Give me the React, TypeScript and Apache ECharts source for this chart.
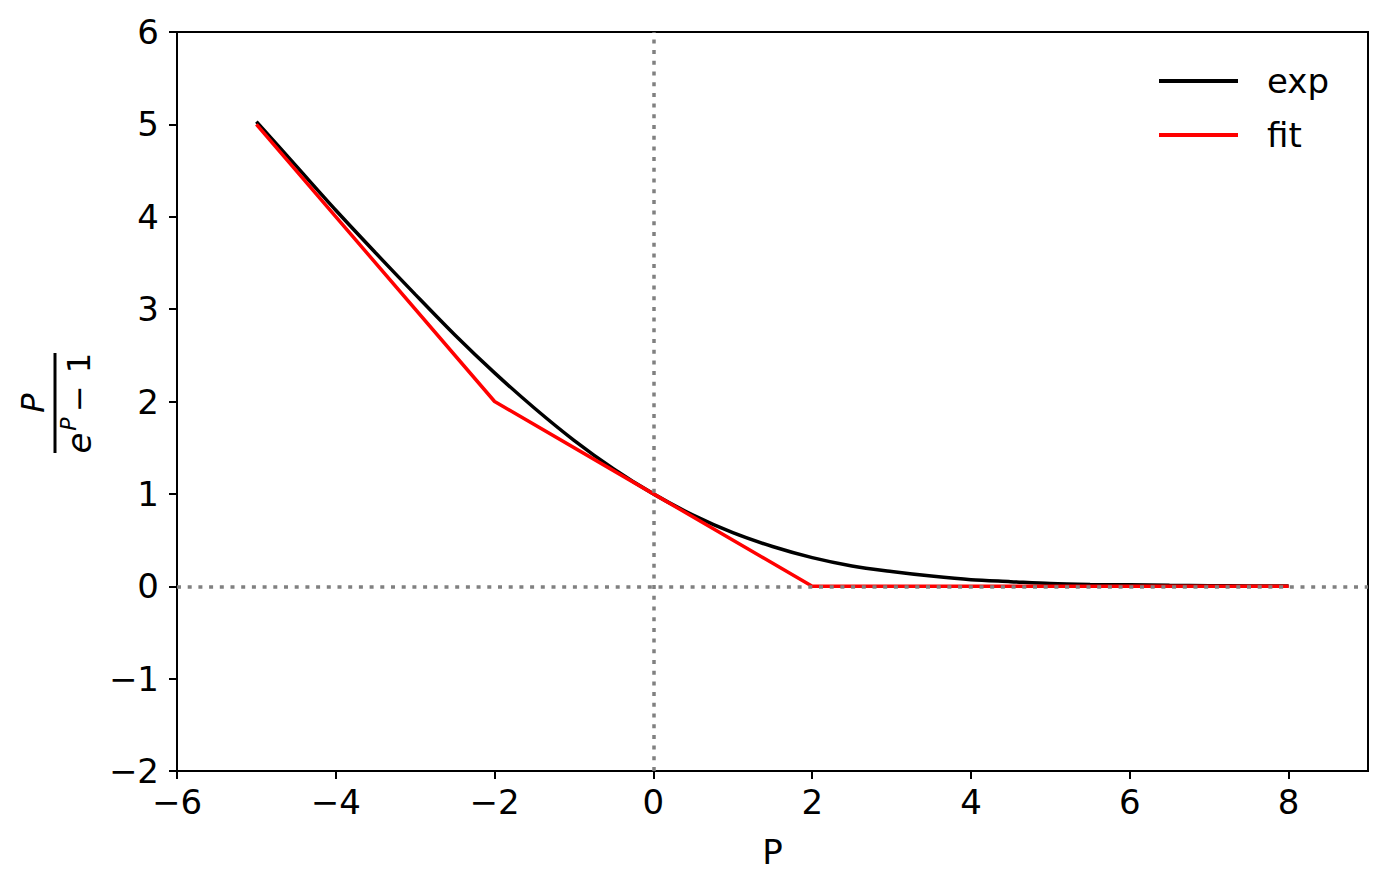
import React, { useEffect, useRef } from "react";
import * as echarts from "echarts";

const pValues = [-5, -4.5, -4, -3.5, -3, -2.5, -2, -1.5, -1, -0.5, 0, 0.5, 1, 1.5, 2, 2.5, 3, 3.5, 4, 4.5, 5, 5.5, 6, 6.5, 7, 7.5, 8];
const expValues = [5.03, 4.55, 4.07, 3.61, 3.16, 2.72, 2.31, 1.93, 1.58, 1.27, 1.0, 0.77, 0.58, 0.43, 0.31, 0.22, 0.16, 0.11, 0.07, 0.05, 0.03, 0.02, 0.015, 0.01, 0.006, 0.004, 0.003];
const fitP = [-5, -2, 0, 2, 8];
const fitValues = [5, 2, 1, 0, 0];
const xTicks = [-6, -4, -2, 0, 2, 4, 6, 8];
const yTicks = [-2, -1, 0, 1, 2, 3, 4, 5, 6];
const seriesNames = ["exp", "fit"];

const FONT = "DejaVu Sans";
const fmt = (v: number) => (v < 0 ? "\u2212" + Math.abs(v) : String(v));

export default function App() {
  const ref = useRef<HTMLDivElement>(null);
  useEffect(() => {
    if (!ref.current) return;
    const chart = echarts.init(ref.current, null, { renderer: "svg" });
    const expData = pValues.map((p, i) => [p, expValues[i]]);
    const fitData = fitP.map((p, i) => [p, fitValues[i]]);
    chart.setOption({
      animation: false,
      backgroundColor: "#ffffff",
      textStyle: { fontFamily: FONT },
      grid: {
        left: 177,
        top: 32,
        right: 18,
        bottom: 121,
        show: true,
        borderColor: "#000",
        borderWidth: 2,
        containLabel: false,
        outerBoundsMode: "none",
      },
      legend: {
        data: seriesNames,
        orient: "vertical",
        left: 1154,
        top: 56,
        itemWidth: 79,
        itemHeight: 4,
        itemGap: 14,
        icon: "rect",
        textStyle: { fontFamily: FONT, fontSize: 34, color: "#000", lineHeight: 40, padding: [0, 0, 0, 24] },
      },
      xAxis: {
        type: "value",
        min: -6,
        max: 9,
        interval: 2,
        name: "P",
        nameLocation: "middle",
        nameGap: 64,
        nameTextStyle: { fontFamily: FONT, fontSize: 34, color: "#000" },
        splitLine: { show: false },
        axisLine: { show: true, onZero: false, lineStyle: { color: "#000", width: 2 } },
        axisTick: { show: true, length: 8, lineStyle: { color: "#000", width: 2 }, customValues: xTicks },
        axisLabel: { fontFamily: FONT, fontSize: 34, color: "#000", margin: 14, formatter: fmt, customValues: xTicks },
      },
      yAxis: {
        type: "value",
        min: -2,
        max: 6,
        interval: 1,
        splitLine: { show: false },
        axisLine: { show: true, onZero: false, lineStyle: { color: "#000", width: 2 } },
        axisTick: { show: true, length: 8, lineStyle: { color: "#000", width: 2 }, customValues: yTicks },
        axisLabel: { fontFamily: FONT, fontSize: 34, color: "#000", margin: 18, formatter: fmt, customValues: yTicks },
      },
      series: [
        {
          name: "exp",
          type: "line",
          data: expData,
          showSymbol: false,
          symbol: "none",
          smooth: 0.3,
          color: "#000000",
          lineStyle: { color: "#000000", width: 3.5 },
          z: 2,
        },
        {
          name: "fit",
          type: "line",
          data: fitData,
          showSymbol: false,
          symbol: "none",
          color: "#ff0000",
          lineStyle: { color: "#ff0000", width: 3.5 },
          z: 3,
        },
        {
          name: "ref",
          type: "line",
          data: [],
          z: 4,
          markLine: {
            silent: true,
            symbol: "none",
            label: { show: false },
            lineStyle: { color: "#808080", width: 3.5, type: [4, 6.7] },
            data: [{ xAxis: 0 }, { yAxis: 0 }],
          },
        },
      ],
      graphic: [
        {
          type: "group",
          x: 55,
          y: 403,
          rotation: Math.PI / 2,
          children: [
            { type: "rect", shape: { x: -50, y: -1.5, width: 100, height: 3 }, style: { fill: "#000" } },
            { type: "text", x: 0, y: -22, style: { text: "P", fontFamily: FONT, fontStyle: "italic", fontSize: 32, fill: "#000", align: "center", verticalAlign: "middle" } },
            { type: "text", x: -40, y: 24, style: { text: "e", fontFamily: FONT, fontStyle: "italic", fontSize: 34, fill: "#000", align: "center", verticalAlign: "middle" } },
            { type: "text", x: -21, y: 13, style: { text: "P", fontFamily: FONT, fontStyle: "italic", fontSize: 22, fill: "#000", align: "center", verticalAlign: "middle" } },
            { type: "text", x: 4.5, y: 24, style: { text: "\u2212", fontFamily: FONT, fontSize: 32, fill: "#000", align: "center", verticalAlign: "middle" } },
            { type: "text", x: 40, y: 24, style: { text: "1", fontFamily: FONT, fontSize: 32, fill: "#000", align: "center", verticalAlign: "middle" } },
          ],
        },
      ],
    });
    return () => chart.dispose();
  }, []);
  return <div ref={ref} style={{ position: "fixed", left: 0, top: 0, width: 1386, height: 892 }} />;
}
